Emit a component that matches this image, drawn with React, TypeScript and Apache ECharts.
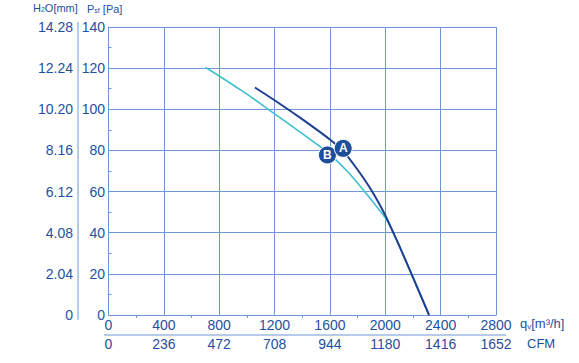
import React, { useEffect, useRef } from "react";
import * as echarts from "echarts";

const flowTicks = [0, 400, 800, 1200, 1600, 2000, 2400, 2800];
const cfmLabels = ["0", "236", "472", "708", "944", "1180", "1416", "1652"];
const paTicks = [0, 20, 40, 60, 80, 100, 120, 140];
const h2oLabels = ["0", "2.04", "4.08", "6.12", "8.16", "10.20", "12.24", "14.28"];

const curveAFlow = [1058, 1200, 1333, 1450, 1600, 1700, 1800, 1900, 2000, 2050, 2100, 2200, 2316];
const curveAPa = [110.6, 104.4, 98.3, 92.8, 85.3, 79.3, 70.6, 60.6, 48.5, 41.2, 33.8, 18.3, 0];

const curveBFlow = [700, 800, 1000, 1135, 1200, 1400, 1534, 1600, 1737, 1850, 2000, 2050, 2100, 2200, 2316];
const curveBPa = [120.4, 116.2, 107.4, 100.9, 97.8, 88.2, 81.6, 78.2, 69, 60, 47.2, 41.2, 33.8, 18.3, 0];

const markerNames = ["B", "A"];
const markerFlow = [1582, 1696];
const markerPa = [77.8, 81];

const TEXT = "#1f4fa0";
const GRID = "#6f97d6";
const FONT = "'Liberation Sans', Arial, sans-serif";

export default function App() {
  const ref = useRef<HTMLDivElement>(null);
  useEffect(() => {
    if (!ref.current) return;
    const chart = echarts.init(ref.current, null, { renderer: "svg" });
    const step = flowTicks[1] - flowTicks[0];
    const paStep = paTicks[1] - paTicks[0];
    const sub = (size: number, lh: number) => ({
      a: { fontSize: size, fill: TEXT, color: TEXT, fontFamily: FONT, lineHeight: lh, verticalAlign: "bottom" },
      s: { fontSize: Math.round(size * 0.62), fill: TEXT, color: TEXT, fontFamily: FONT, lineHeight: lh, verticalAlign: "bottom" },
    });
    chart.setOption({
      animation: false,
      textStyle: { fontFamily: FONT },
      grid: { left: 108.5, right: 83, top: 27, bottom: 48, containLabel: false },
      xAxis: [
        {
          type: "value",
          position: "bottom",
          min: flowTicks[0],
          max: flowTicks[flowTicks.length - 1],
          interval: step,
          axisLine: { show: true, lineStyle: { color: GRID, width: 1 } },
          axisTick: { show: false },
          minorTick: { show: true, splitNumber: 2, length: 3, lineStyle: { color: GRID } },
          splitLine: { show: true, lineStyle: { color: GRID, width: 1 } },
          axisLabel: {
            color: TEXT,
            fontSize: 14,
            fontFamily: FONT,
            margin: 3,
            formatter: (v: number) => String(flowTicks[Math.round(v / step)]),
          },
        },
        {
          type: "value",
          position: "bottom",
          offset: 20,
          min: flowTicks[0],
          max: flowTicks[flowTicks.length - 1],
          interval: step,
          axisLine: { show: false },
          axisTick: { show: false },
          splitLine: { show: false },
          axisLabel: {
            color: TEXT,
            fontSize: 14,
            fontFamily: FONT,
            margin: 2,
            formatter: (v: number) => cfmLabels[Math.round(v / step)],
          },
        },
      ],
      yAxis: [
        {
          type: "value",
          position: "left",
          min: paTicks[0],
          max: paTicks[paTicks.length - 1],
          interval: paStep,
          axisLine: { show: true, lineStyle: { color: GRID, width: 1 } },
          axisTick: { show: false, inside: true },
          minorTick: { show: true, splitNumber: 2, length: 3, lineStyle: { color: GRID } },
          splitLine: { show: true, lineStyle: { color: GRID, width: 1 } },
          axisLabel: {
            color: TEXT,
            fontSize: 14,
            fontFamily: FONT,
            margin: 3.5,
            formatter: (v: number) => {
              const i = Math.round(v / paStep);
              return "{h|" + h2oLabels[i] + "}{p|" + paTicks[i] + "}";
            },
            rich: {
              h: { fontSize: 14, color: TEXT, fontFamily: FONT, width: 50, align: "right" },
              p: { fontSize: 14, color: TEXT, fontFamily: FONT, width: 32, align: "right" },
            },
          },
        },
      ],
      graphic: [
        { type: "line", shape: { x1: 78, y1: 22, x2: 78, y2: 320 }, style: { stroke: GRID, lineWidth: 1 } },
        { type: "line", shape: { x1: 104, y1: 335, x2: 506, y2: 335 }, style: { stroke: GRID, lineWidth: 1 } },
        {
          type: "text",
          left: 33,
          top: 2,
          style: { text: "{a|H}{s|2}{a|O[mm]}", rich: sub(11, 12) },
        },
        {
          type: "text",
          left: 87,
          top: 3,
          style: { text: "{a|P}{s|sf}{a| [Pa]}", rich: sub(11, 12) },
        },
        {
          type: "text",
          left: 520,
          top: 317,
          style: { text: "{a|q}{s|v}{a|[m³/h]}", rich: sub(13, 15) },
        },
        {
          type: "text",
          left: 527,
          top: 337,
          style: { text: "CFM", fontSize: 13, fill: TEXT, fontFamily: FONT },
        },
      ],
      series: [
        {
          type: "line",
          name: "B",
          data: curveBFlow.map((x, i) => [x, curveBPa[i]]),
          showSymbol: false,
          smooth: 0.15,
          lineStyle: { color: "#3dbfd2", width: 1.6 },
          z: 2,
        },
        {
          type: "line",
          name: "A",
          data: curveAFlow.map((x, i) => [x, curveAPa[i]]),
          showSymbol: false,
          smooth: 0.15,
          lineStyle: { color: "#1e3f92", width: 2 },
          z: 3,
        },
        {
          type: "scatter",
          data: markerNames.map((n, i) => ({ name: n, value: [markerFlow[i], markerPa[i]] })),
          symbol: "circle",
          symbolSize: 18,
          itemStyle: { color: "#1f4f9a", borderColor: "#ffffff", borderWidth: 1, opacity: 1 },
          label: {
            show: true,
            position: "inside",
            formatter: (p: any) => p.name,
            color: "#ffffff",
            fontSize: 12,
            fontWeight: "bold",
            fontFamily: FONT,
          },
          z: 5,
        },
      ],
    });
    return () => chart.dispose();
  }, []);
  return <div ref={ref} style={{ position: "fixed", left: 0, top: 0, width: 579, height: 363, background: "#fff" }} />;
}
